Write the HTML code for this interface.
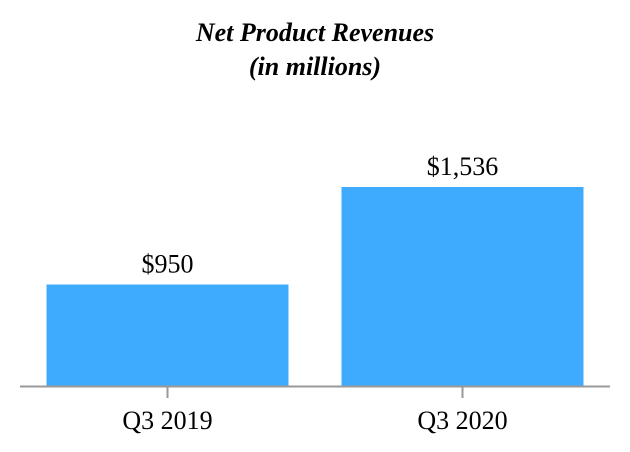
<!DOCTYPE html>
<html><head><meta charset="utf-8"><style>
html,body{margin:0;padding:0;background:#fff;}
svg{display:block;font-family:"Liberation Serif",serif;}
</style></head><body>
<svg id="chart" width="630" height="452">
<text x="315" y="41" text-anchor="middle" font-size="26" font-weight="bold" font-style="italic">Net Product Revenues</text>
<text x="315" y="75" text-anchor="middle" font-size="26" font-weight="bold" font-style="italic">(in millions)</text>
<g id="bars"></g>
<line x1="20" y1="386.5" x2="610" y2="386.5" stroke="#999" stroke-width="2"/>
</svg>
<script>
const categories = ["Q3 2019", "Q3 2020"];
const values = [950, 1536];
const valueLabels = ["$950", "$1,536"];
const yMin = 340, yMax = 1536;
const baseY = 386, topY = 187;
function y(v){ return baseY - (v - yMin) / (yMax - yMin) * (baseY - topY); }
const left = 20, right = 610, band = (right - left) / categories.length, barW = 242;
const g = document.getElementById('bars');
const NS = "http://www.w3.org/2000/svg";
categories.forEach((c, i) => {
  const cx = left + band * (i + 0.5);
  const r = document.createElementNS(NS, 'rect');
  r.setAttribute('x', cx - barW / 2);
  r.setAttribute('y', y(values[i]));
  r.setAttribute('width', barW);
  r.setAttribute('height', baseY - y(values[i]));
  r.setAttribute('fill', '#3FABFF');
  
  
  g.appendChild(r);
  const t = document.createElementNS(NS, 'text');
  t.setAttribute('x', cx); t.setAttribute('y', y(values[i]) - 12);
  t.setAttribute('text-anchor', 'middle'); t.setAttribute('font-size', '26');
  t.textContent = valueLabels[i];
  
  
  g.appendChild(t);
  const tk = document.createElementNS(NS, 'line');
  tk.setAttribute('x1', cx); tk.setAttribute('x2', cx);
  tk.setAttribute('y1', 387); tk.setAttribute('y2', 398);
  tk.setAttribute('stroke', '#999'); tk.setAttribute('stroke-width', '2');
  
  
  g.appendChild(tk);
  const l = document.createElementNS(NS, 'text');
  l.setAttribute('x', cx); l.setAttribute('y', 429);
  l.setAttribute('text-anchor', 'middle'); l.setAttribute('font-size', '26');
  l.textContent = c;
  
  
  g.appendChild(l);
});
</script>
</body></html>
